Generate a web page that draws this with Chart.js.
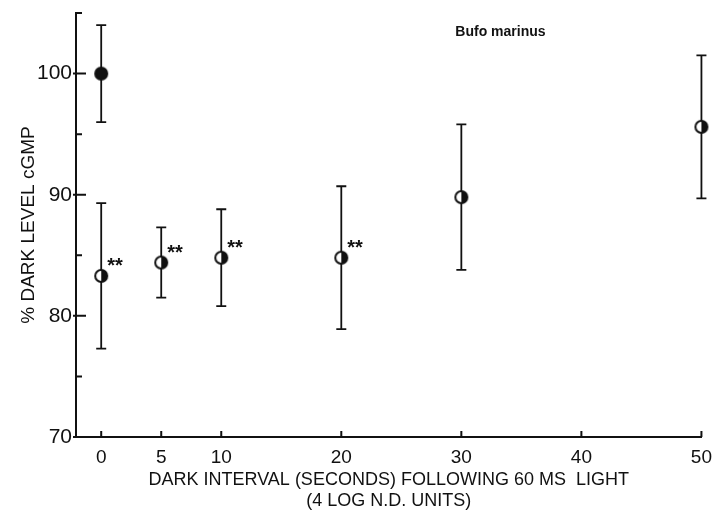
<!DOCTYPE html>
<html>
<head>
<meta charset="utf-8">
<script src="https://cdn.jsdelivr.net/npm/chart.js@4.4.1/dist/chart.umd.min.js"></script>
<style>
  html, body { margin: 0; padding: 0; background: #fff; }
  #wrap { width: 713px; height: 512px; }
</style>
</head>
<body>
<div id="wrap"><canvas id="c" width="713" height="512"></canvas></div>
<script>
// data
const darkX = [0];
const darkY = [100];
const darkErr = [4.0];

const lightX = [0, 5, 10, 20, 30, 50];
const lightY = [83.3, 84.4, 84.8, 84.8, 89.8, 95.6];
const lightErr = [6.0, 2.9, 4.0, 5.9, 6.0, 5.9];
const lightStars = ['**', '**', '**', '**', '', ''];

const xTicks = [0, 5, 10, 20, 30, 40, 50];
const yMajor = [70, 80, 90, 100];
const yMinor = [75, 85, 95, 105];

const INK = '#111';
const FONT = '"Liberation Sans", Arial, sans-serif';

// point markers: full dot and half-filled circle
function makeMarker(r, full) {
  const c = document.createElement('canvas');
  const s = 2 * r + 4;
  c.width = s; c.height = s;
  const g = c.getContext('2d');
  const m = s / 2;
  g.beginPath(); g.arc(m, m, r, 0, Math.PI * 2);
  g.fillStyle = full ? INK : '#fff'; g.fill();
  if (!full) {
    g.beginPath(); g.arc(m, m, r, -Math.PI / 2, Math.PI / 2); g.closePath();
    g.fillStyle = INK; g.fill();
  }
  g.beginPath(); g.arc(m, m, r, 0, Math.PI * 2);
  g.lineWidth = 2; g.strokeStyle = INK; g.stroke();
  return c;
}

const errorBars = {
  id: 'errorBars',
  beforeDatasetsDraw(chart) {
    const ctx = chart.ctx, ys = chart.scales.y;
    ctx.save();
    ctx.strokeStyle = INK; ctx.lineWidth = 1.8;
    chart.data.datasets.forEach((ds, di) => {
      const meta = chart.getDatasetMeta(di);
      meta.data.forEach((pt, i) => {
        const v = ds.data[i].y, e = ds.err[i];
        const top = ys.getPixelForValue(v + e), bot = ys.getPixelForValue(v - e);
        ctx.beginPath();
        ctx.moveTo(pt.x, top); ctx.lineTo(pt.x, bot);
        ctx.moveTo(pt.x - 5, top); ctx.lineTo(pt.x + 5, top);
        ctx.moveTo(pt.x - 5, bot); ctx.lineTo(pt.x + 5, bot);
        ctx.stroke();
      });
    });
    ctx.restore();
  },
  afterDatasetsDraw(chart) {
    const ctx = chart.ctx;
    ctx.save();
    ctx.fillStyle = INK;
    ctx.font = 'bold 20px ' + FONT;
    ctx.textAlign = 'left'; ctx.textBaseline = 'top';
    chart.data.datasets.forEach((ds, di) => {
      if (!ds.stars) return;
      chart.getDatasetMeta(di).data.forEach((pt, i) => {
        if (ds.stars[i]) ctx.fillText(ds.stars[i], pt.x + 6, pt.y - 19);
      });
    });
    // species label
    const xs = chart.scales.x, ys = chart.scales.y;
    ctx.font = 'bold 14px ' + FONT;
    ctx.textBaseline = 'middle';
    ctx.fillText('Bufo marinus', xs.getPixelForValue(29.5), ys.getPixelForValue(103.4));
    ctx.restore();
  },
  afterDraw(chart) {
    // inward tick marks
    const ctx = chart.ctx, xs = chart.scales.x, ys = chart.scales.y;
    const a = chart.chartArea;
    ctx.save();
    ctx.strokeStyle = INK; ctx.lineWidth = 2;
    ctx.beginPath();
    yMajor.forEach(v => { const p = ys.getPixelForValue(v); ctx.moveTo(a.left - 3, p); ctx.lineTo(a.left + 10, p); });
    yMinor.forEach(v => { const p = ys.getPixelForValue(v); ctx.moveTo(a.left, p); ctx.lineTo(a.left + 6, p); });
    xTicks.forEach(v => { const p = xs.getPixelForValue(v); ctx.moveTo(p, a.bottom); ctx.lineTo(p, a.bottom - 6); });
    ctx.stroke();
    ctx.restore();
  }
};

new Chart(document.getElementById('c'), {
  type: 'scatter',
  data: {
    datasets: [
      {
        data: darkX.map((x, i) => ({ x, y: darkY[i] })),
        err: darkErr,
        clip: false,
        pointStyle: makeMarker(6, true)
      },
      {
        data: lightX.map((x, i) => ({ x, y: lightY[i] })),
        err: lightErr,
        stars: lightStars,
        clip: false,
        pointStyle: makeMarker(6, false)
      }
    ]
  },
  options: {
    responsive: false,
    animation: false,
    layout: { padding: { top: 13, right: 6, left: 0, bottom: 0 } },
    plugins: { legend: { display: false }, tooltip: { enabled: false } },
    scales: {
      x: {
        type: 'linear', min: -2.1, max: 50,
        afterBuildTicks: s => { s.ticks = xTicks.map(v => ({ value: v })); },
        afterFit: s => { s.height = 75; },
        grid: { display: false },
        border: { display: true, color: INK, width: 2 },
        ticks: { color: INK, padding: 1, font: { family: FONT, size: 19 } },
        title: {
          display: true,
          text: ['DARK INTERVAL (SECONDS) FOLLOWING 60 MS  LIGHT', '(4 LOG N.D. UNITS)'],
          color: INK,
          font: { family: FONT, size: 18, lineHeight: 1.2 },
          padding: { top: 2, bottom: 0 }
        }
      },
      y: {
        min: 70, max: 105,
        afterBuildTicks: s => { s.ticks = yMajor.map(v => ({ value: v })); },
        afterFit: s => { s.width = 76; },
        grid: { display: false },
        border: { display: true, color: INK, width: 2 },
        ticks: { color: INK, padding: -4, font: { family: FONT, size: 21 } },
        title: {
          display: true,
          text: '% DARK LEVEL cGMP',
          color: INK,
          font: { family: FONT, size: 19 },
          padding: { top: 17, bottom: 0 }
        }
      }
    }
  },
  plugins: [errorBars]
});
</script>
</body>
</html>
